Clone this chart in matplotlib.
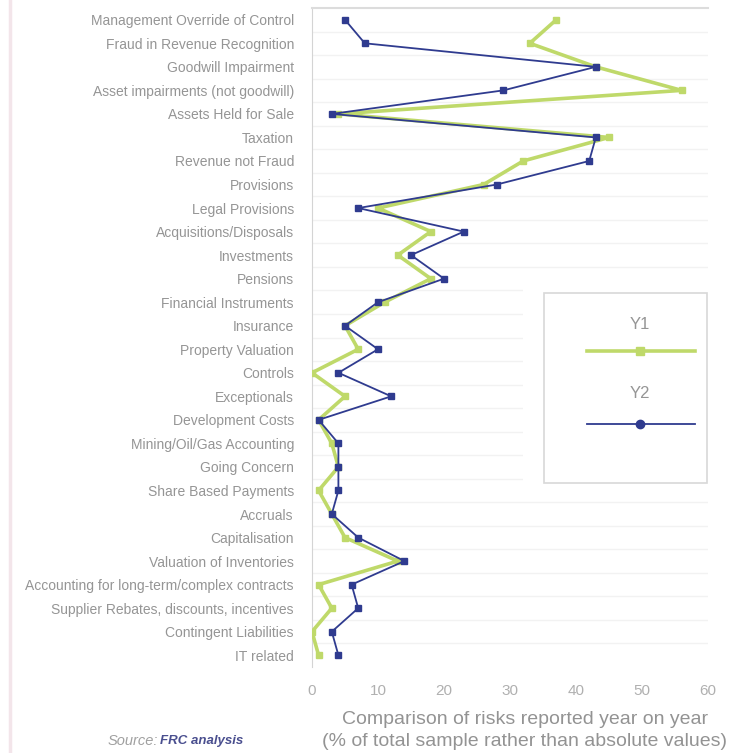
import numpy as np
import matplotlib.pyplot as plt
from matplotlib.lines import Line2D
from matplotlib.patches import Rectangle

plt.rcParams['font.family'] = ['Liberation Sans', 'DejaVu Sans']

# risk categories, top to bottom
categories = [
    'Management Override of Control', 'Fraud in Revenue Recognition',
    'Goodwill Impairment', 'Asset impairments (not goodwill)',
    'Assets Held for Sale', 'Taxation', 'Revenue not Fraud', 'Provisions',
    'Legal Provisions', 'Acquisitions/Disposals', 'Investments', 'Pensions',
    'Financial Instruments', 'Insurance', 'Property Valuation', 'Controls',
    'Exceptionals', 'Development Costs', 'Mining/Oil/Gas Accounting',
    'Going Concern', 'Share Based Payments', 'Accruals', 'Capitalisation',
    'Valuation of Inventories', 'Accounting for long-term/complex contracts',
    'Supplier Rebates, discounts, incentives', 'Contingent Liabilities',
    'IT related',
]
# % of total sample reporting each risk
y1 = [37, 33, 43, 56, 4, 45, 32, 26, 10, 18, 13, 18, 11, 5, 7, 0,
      5, 1, 3, 4, 1, 3, 5, 13, 1, 3, 0, 1]
y2 = [5, 8, 43, 29, 3, 43, 42, 28, 7, 23, 15, 20, 10, 5, 10, 4,
      12, 1, 4, 4, 4, 3, 7, 14, 6, 7, 3, 4]
series_names = ['Y1', 'Y2']
x_ticks = [0, 10, 20, 30, 40, 50, 60]

green = '#bfd96a'
blue = '#2f3b8f'
grey_txt = '#959595'

fig = plt.figure(figsize=(7.41, 7.53), dpi=100)
ax = fig.add_axes([312 / 741, 1 - 667 / 753, 396 / 741, 659 / 753])

pos = np.arange(len(categories))
ax.plot(y1, pos, color=green, lw=2.6, marker='s', ms=5, mec=green, zorder=3)
ax.plot(y2, pos, color=blue, lw=1.3, marker='s', ms=5, mec=blue, zorder=4)

ax.set_ylim(len(categories) - 0.5, -0.5)
ax.set_xlim(0, 60)
ax.set_yticks(pos)
ax.set_yticklabels(categories, fontsize=10, color=grey_txt)
ax.set_xticks(x_ticks)
ax.set_xticklabels([str(t) for t in x_ticks], fontsize=11, color='#b0b0b0')
ax.tick_params(axis='y', length=0, pad=13)
ax.tick_params(axis='x', length=0, pad=12)

# faint row separators
ax.set_yticks(pos[:-1] + 0.5, minor=True)
ax.tick_params(axis='y', which='minor', length=0)
ax.grid(True, which='minor', axis='y', color='#f2f2f2', lw=1)

for side in ['right', 'bottom']:
    ax.spines[side].set_visible(False)
ax.spines['left'].set_color('#d4d4d4')
ax.spines['top'].set_color('#dcdcdc')
ax.spines['top'].set_linewidth(1.5)

# axis caption
fig.text(525 / 741, 1 - 719 / 753, 'Comparison of risks reported year on year',
         ha='center', va='center', fontsize=14, color='#939393')
fig.text(525 / 741, 1 - 741 / 753, '(% of total sample rather than absolute values)',
         ha='center', va='center', fontsize=14, color='#939393')

# legend panel
lax = fig.add_axes([523 / 741, 1 - 490 / 753, 185 / 741, 215 / 753])
lax.set_xlim(0, 185)
lax.set_ylim(215, 0)
lax.axis('off')
lax.add_patch(Rectangle((0, 0), 185, 215, facecolor='white', edgecolor='none', zorder=1))
lax.add_patch(Rectangle((21, 18), 163, 190, facecolor='white', edgecolor='#d8d8d8', lw=1.2, zorder=2))
lax.text(117, 50, series_names[0], ha='center', va='center', fontsize=12, color=grey_txt, zorder=3)
lax.plot([64, 172], [76, 76], color=green, lw=2.6, zorder=3)
lax.plot([117], [76], marker='s', ms=6, color=green, zorder=4)
lax.text(117, 118, series_names[1], ha='center', va='center', fontsize=12, color=grey_txt, zorder=3)
lax.plot([64, 172], [149, 149], color=blue, lw=1.3, zorder=3)
lax.plot([117], [149], marker='o', ms=6, color=blue, zorder=4)

# source note
fig.text(243 / 741, 1 - 741 / 753, 'FRC analysis', ha='right', va='center',
         fontsize=9.5, color='#4a4f8f', style='italic', weight='bold')
fig.text(158 / 741, 1 - 741 / 753, 'Source:', ha='right', va='center',
         fontsize=10.5, color='#a0a0a0', style='italic')

# page margin rule
fig.add_artist(Line2D([9.5 / 741, 9.5 / 741], [0, 1], color='#f3e5ea', lw=2.5))

plt.savefig('out.png', dpi=100)
